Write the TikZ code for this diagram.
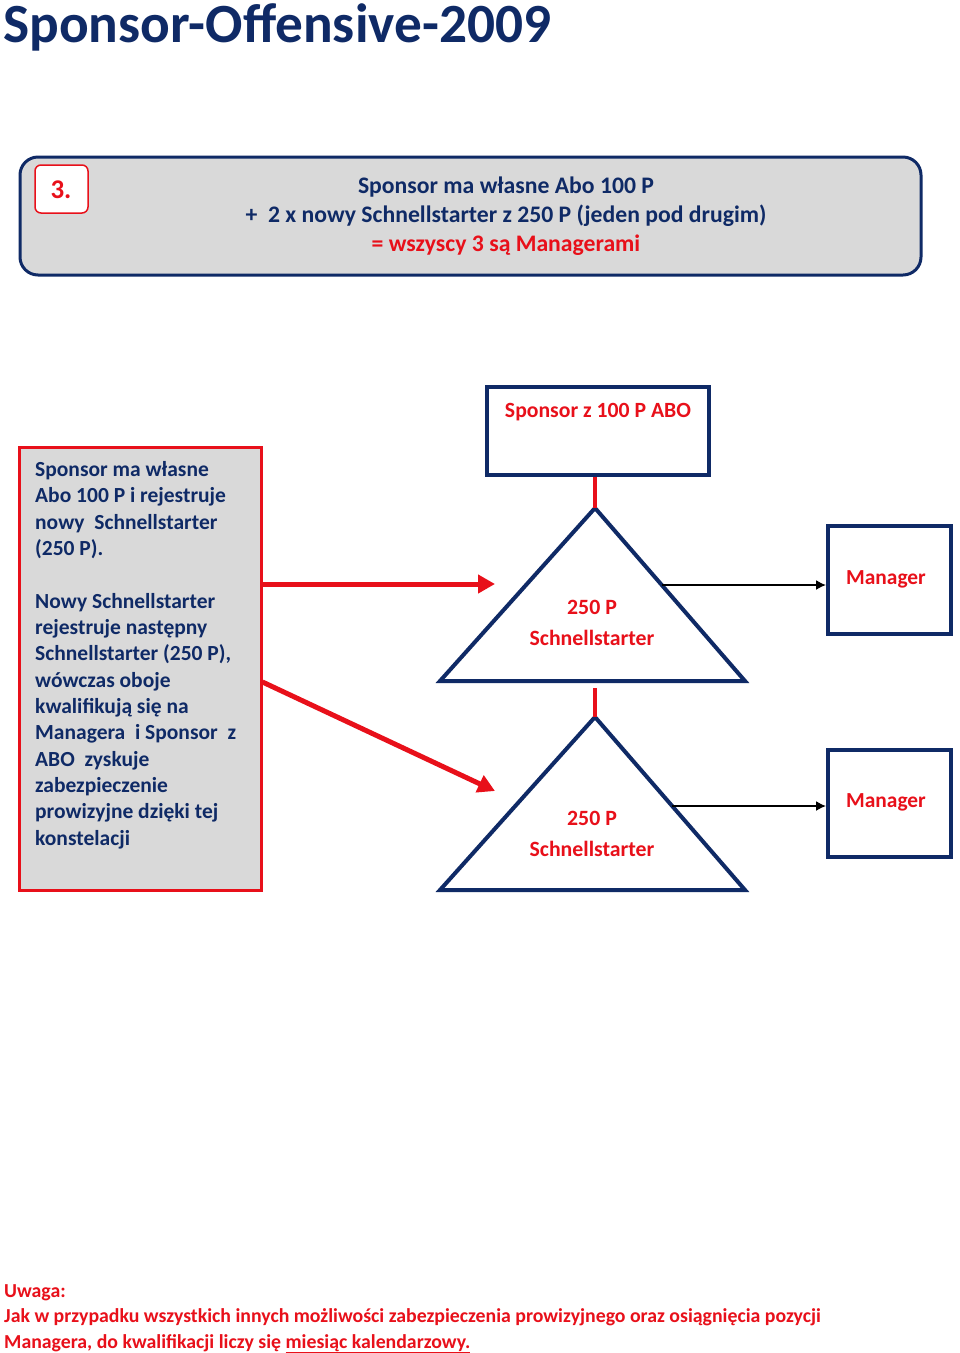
\documentclass[tikz,border=0pt]{standalone}
\usepackage{fontspec}
\setmainfont{Carlito}
\usetikzlibrary{arrows.meta}
\definecolor{navy}{HTML}{0F2A66}
\definecolor{myred}{HTML}{E8101A}
\definecolor{boxgrey}{HTML}{D9D9D9}
\begin{document}
\begin{tikzpicture}[x=1pt,y=-1pt,
  every node/.style={font=\bfseries, inner sep=0pt},
  navytxt/.style={text=navy},
  redtxt/.style={text=myred},
  navybox/.style={draw=navy, line width=4pt, fill=white},
  tri/.style={draw=navy, line width=4pt, line join=miter, fill=white},
  redlink/.style={draw=myred, line width=4pt},
  redarrow/.style={draw=myred, line width=5pt, -{Triangle[length=17pt,width=18pt]}},
  blackarrow/.style={draw=black, line width=1.5pt, -{Latex[length=10pt,width=10pt]}}
]
\useasboundingbox (0,0) rectangle (960,1353);
\fill[white] (0,0) rectangle (960,1353);

% title
\node[navytxt, anchor=base west, font=\bfseries\fontsize{55.3}{60}\selectfont] (title) at (3,42) {Sponsor-Offensive-2009};

% header box
\draw[draw=navy, line width=3pt, fill=boxgrey, rounded corners=18pt] (20,157) rectangle (921,275);
\node[draw=myred, line width=1.5pt, fill=white, rounded corners=6pt, minimum width=53pt, minimum height=48pt] (num) at (61.5,189) {};
\node[redtxt, font=\bfseries\fontsize{27}{30}\selectfont] (numtxt) at (61,190) {3.};
\node[navytxt, anchor=base, font=\bfseries\fontsize{23.7}{29}\selectfont] (h1) at (506,193) {Sponsor ma własne Abo 100 P};
\node[navytxt, anchor=base, font=\bfseries\fontsize{23.7}{29}\selectfont] (h2) at (506,222) {+\ \ 2 x nowy Schnellstarter z 250 P (jeden pod drugim)};
\node[redtxt, anchor=base, font=\bfseries\fontsize{23.7}{29}\selectfont] (h3) at (506,251) {= wszyscy 3 są Managerami};

% left explanation box
\node[draw=myred, line width=3pt, fill=boxgrey, minimum width=242pt, minimum height=443pt] (left) at (140,668.5) {};
\node[navytxt, anchor=north west, align=left, font=\bfseries\fontsize{21.5}{26.36}\selectfont] (lefttxt) at (35,461) {Sponsor ma własne\\Abo 100 P i rejestruje\\nowy\ \ Schnellstarter\\(250 P).\\[26.36pt]Nowy Schnellstarter\\rejestruje następny\\Schnellstarter (250 P),\\wówczas oboje\\kwalifikują się na\\Managera\ \ i Sponsor\ \ z\\ABO\ \ zyskuje\\zabezpieczenie\\prowizyjne dzięki tej\\konstelacji};

% sponsor box
\node[navybox, minimum width=222pt, minimum height=88pt] (spon) at (598,431) {};
\node[redtxt, anchor=base, font=\bfseries\fontsize{21.7}{26}\selectfont] (spontxt) at (598,417) {Sponsor z 100 P ABO};

% triangles
\coordinate (apex1) at (595,508);
\coordinate (apex2) at (595,717);
\coordinate (top2) at (595,688);
\draw[tri] (apex1) -- (745,681) -- (440,681) -- cycle;
\draw[tri] (apex2) -- (745,890) -- (440,890) -- cycle;
\node[redtxt, anchor=base, font=\bfseries\fontsize{21.8}{26}\selectfont] (t1a) at (592,614) {250 P};
\node[redtxt, anchor=base, font=\bfseries\fontsize{21.8}{26}\selectfont] (t1b) at (592,645) {Schnellstarter};
\node[redtxt, anchor=base, font=\bfseries\fontsize{21.8}{26}\selectfont] (t2a) at (592,825) {250 P};
\node[redtxt, anchor=base, font=\bfseries\fontsize{21.8}{26}\selectfont] (t2b) at (592,856) {Schnellstarter};

% red connectors
\draw[redlink] (apex1 |- spon.south) -- (apex1);
\draw[redlink] (top2) -- (apex2);

% manager boxes
\node[navybox, minimum width=123pt, minimum height=108pt] (man1) at (889.5,580) {};
\node[navybox, minimum width=123pt, minimum height=107pt] (man2) at (889.5,803.5) {};
\node[redtxt, anchor=base, font=\bfseries\fontsize{21.4}{26}\selectfont] (m1txt) at (886,584) {Manager};
\node[redtxt, anchor=base, font=\bfseries\fontsize{21.4}{26}\selectfont] (m2txt) at (886,807) {Manager};

% black arrows
\coordinate (e1) at (662,585);
\coordinate (e2) at (672,806);
\draw[blackarrow] (e1) -- (e1 -| man1.west);
\draw[blackarrow] (e2) -- (e2 -| man2.west);

% red arrows
\coordinate (r1s) at (left.east |- 0,584);
\coordinate (r1e) at (495,584);
\coordinate (r2s) at (left.east |- 0,682);
\coordinate (r2e) at (495,791);
\draw[redarrow] (r1s) -- (r1e);
\draw[redarrow] (r2s) -- (r2e);

% footer
\node[redtxt, anchor=base west, font=\bfseries\fontsize{19.8}{25}\selectfont] (f1) at (4,1297) {Uwaga:};
\node[redtxt, anchor=base west, font=\bfseries\fontsize{19.8}{25}\selectfont] (f2) at (4,1322) {Jak w przypadku wszystkich innych możliwości zabezpieczenia prowizyjnego oraz osiągnięcia pozycji};
\node[redtxt, anchor=base west, font=\bfseries\fontsize{19.8}{25}\selectfont] (f3) at (4,1348) {Managera, do kwalifikacji liczy się \underline{miesiąc kalendarzowy.}};
\end{tikzpicture}
\end{document}
